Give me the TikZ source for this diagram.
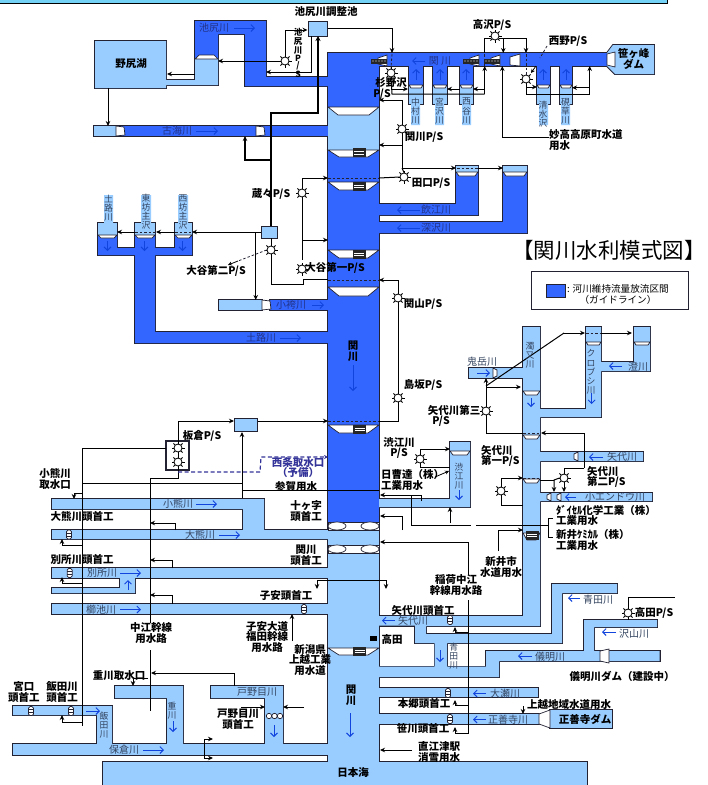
\documentclass[tikz,border=0pt]{standalone}
\usepackage{fontspec}
\usetikzlibrary{arrows.meta}
\newfontfamily\jp{Noto Sans CJK JP}
\definecolor{mb}{HTML}{3366FF}
\definecolor{lb}{HTML}{99CCFF}
\definecolor{ln}{HTML}{222233}
\definecolor{rv}{HTML}{1144DD}
\definecolor{txd}{HTML}{223388}
\definecolor{txl}{HTML}{33445F}
\definecolor{pur}{HTML}{333399}
\newcount\labc
\tikzset{
 lab/.style={font=\jp\bfseries\fontsize{10.5}{10.6}\selectfont,align=center,inner sep=0pt,text=black},
 labl/.style={lab,align=left,anchor=west},
 rl/.style={font=\jp\fontsize{10}{10}\selectfont,inner sep=0pt,text=txl},
 rld/.style={rl,text=txd},
 vt/.style={font=\jp\fontsize{8.8}{9.1}\selectfont,align=center,inner sep=0pt,text=txl},
 wl/.style={line width=1pt,draw=black},
 ar/.style={wl,-{Stealth[length=5pt,width=4.5pt]}},
 thk/.style={line width=1.4pt,draw=black,-{Stealth[length=5pt,width=5pt]}},
 dsh/.style={line width=.8pt,dash pattern=on 2.5pt off 2pt,draw=ln},
 ra/.style={line width=.9pt,draw=rv,-{Straight Barb[length=3.5pt,width=7pt]}},
 pumpn/.style={circle,draw=black,line width=.8pt,fill=white,minimum size=8pt,inner sep=0pt},
 tank/.style={draw=ln,line width=1pt,fill=lb,inner sep=0pt},
 wr/.style={fill=white,draw=ln,line width=.7pt},
}
\newcommand\lab[2]{\global\advance\labc by 1 \node[lab] (t\the\labc) at (#1) {#2};}
\newcommand\labL[2]{\global\advance\labc by 1 \node[labl] (t\the\labc) at (#1) {#2};}
\newcommand\rl[2]{\global\advance\labc by 1 \node[rl] (t\the\labc) at (#1) {#2};}
\newcommand\rld[2]{\global\advance\labc by 1 \node[rld] (t\the\labc) at (#1) {#2};}
\newcommand\vtx[2]{\global\advance\labc by 1 \node[vt] (t\the\labc) at (#1) {#2};}
\newcommand\pump[2]{\foreach \a in {0,45,...,315}{\draw[line width=1pt,shift={(#2)}] (\a:3) -- (\a:6.5);}\node[pumpn] (#1) at (#2) {};}
\newcommand\trap[5]{\draw[wr] (#1,#3) -- ({#1+#5},#4) -- ({#2-#5},#4) -- (#2,#3) -- cycle;}
\newcommand\gatebox[2]{\fill[black!85] ({#1-6.5},{#2-4.5}) rectangle ({#1+6.5},{#2+4.5});\draw[white,line width=.5pt] ({#1-5},{#2-1}) -- ({#1+5},{#2-1}) ({#1-5},{#2+1.5}) -- ({#1+5},{#2+1.5});}
\newcommand\bargate[2]{\draw[fill=white,draw=ln,line width=.7pt,rounded corners=1.5pt] ({#1-2.5},{#2-4.5}) rectangle ({#1+2.5},{#2+4.5});\draw[ln,line width=.5pt] ({#1-2.5},{#2-1.5}) -- ({#1+2.5},{#2-1.5}) ({#1-2.5},{#2+1.5}) -- ({#1+2.5},{#2+1.5});}
\newcommand\topgate[1]{\draw[wr] (#1,58) -- ({#1+9},55) -- ({#1+9},66) -- (#1,64) -- cycle;\fill[black!85] ({#1-7},59) rectangle ({#1+9},64);\foreach \k in {-5,-2,...,7}{\fill[white] ({#1+\k},61) circle (.6pt);}}
\newcommand\dgate[2]{\draw[wr] ({#1},{#2}) -- ({#1+8},{#2+1}) -- ({#1+9},{#2+9}) -- ({#1},{#2+10}) -- cycle;}
\newcommand\Rivers{%
 \MB{(328,54) rectangle (379,108)}
 \MB{(328,53) rectangle (607,66)}
 \MB{(195,58) -- (195,21) -- (266,21) -- (266,77) -- (328,77) -- (328,86) -- (245,86) -- (245,34) -- (218,34) -- (218,58) -- cycle}
 \MB{(116,126) rectangle (328,136)}
 \MB{(328,150) rectangle (379,522)}
 \MB{(379,204) -- (456,204) -- (456,166) -- (478,166) -- (478,215) -- (379,215) -- cycle}
 \MB{(379,222) -- (503,222) -- (503,166) -- (527,166) -- (527,233) -- (379,233) -- cycle}
 \MB{(270,300) rectangle (328,310)}
 \MB{(328,332) -- (155,332) -- (155,255) -- (192,255) -- (192,232) -- (175,232) -- (175,248) -- (155,248) -- (155,232) -- (135,232) -- (135,248) -- (117,248) -- (117,232) -- (98,232) -- (98,255) -- (135,255) -- (135,343) -- (328,343) -- cycle}
 \MB{(409,66) rectangle (423,88)}\MB{(433,66) rectangle (447,88)}\MB{(460,66) rectangle (473,88)}\MB{(537,66) rectangle (550,88)}\MB{(560,66) rectangle (572,88)}
 \LB{(95,41) -- (166,41) -- (166,80) -- (195,80) -- (195,58) -- (218,58) -- (218,85) -- (166,85) -- (166,88) -- (95,88) -- cycle}
 \LB{(94,126) rectangle (116,136)}
 \LB{(328,107) rectangle (379,150)}
 \LB{(98,223) rectangle (117,236)}\LB{(135,223) rectangle (155,236)}\LB{(175,223) rectangle (192,236)}
 \LB{(219,300) rectangle (262,310)}
 \LB{(456,166) rectangle (478,173)}\LB{(503,166) rectangle (527,173)}
 \LB{(409,85) rectangle (423,104)}\LB{(433,85) rectangle (447,104)}\LB{(460,85) rectangle (473,104)}\LB{(537,85) rectangle (550,104)}\LB{(560,85) rectangle (572,104)}
 \LB{(328,522) rectangle (379,762)}
 \LB{(52,499) -- (264,499) -- (264,530) -- (328,530) -- (328,539) -- (52,539) -- (52,530) -- (243,530) -- (243,509) -- (52,509) -- cycle}
 \LB{(52,568) rectangle (328,578)}
 \LB{(52,588) -- (120,588) -- (120,577) -- (135,577) -- (135,593) -- (52,593) -- cycle}
 \LB{(52,604) rectangle (328,614)}
 \LB{(13,706) -- (112,706) -- (112,744) -- (97,744) -- (97,715) -- (13,715) -- cycle}
 \LB{(13,744) rectangle (328,755)}
 \LB{(103,762) rectangle (587,785)}
 \LB{(115,686) -- (183,686) -- (183,745) -- (167,745) -- (167,698) -- (115,698) -- cycle}
 \LB{(211,686) -- (283,686) -- (283,745) -- (265,745) -- (265,698) -- (211,698) -- cycle}
 \LB{(379,616) -- (523,616) -- (523,327) -- (540,327) -- (540,409) -- (586,409) -- (586,327) -- (601,327) -- (601,362) -- (634,362) -- (634,327) -- (650,327) -- (650,371) -- (601,371) -- (601,417) -- (540,417) -- (540,452) -- (643,452) -- (643,461) -- (540,461) -- (540,493) -- (652,493) -- (652,501) -- (540,501) -- (540,626) -- (426,626) -- (426,634) -- (552,634) -- (552,584) -- (617,584) -- (617,593) -- (562,593) -- (562,643) -- (447,643) -- (447,666.7) -- (486,666.7) -- (486,651) -- (584,651) -- (584,620) -- (657,620) -- (657,627) -- (594,627) -- (594,651) -- (659.7,651) -- (659.7,661) -- (499,661) -- (499,677) -- (379,677) -- (379,666.7) -- (434.7,666.7) -- (434.7,643) -- (415,643) -- (415,625.7) -- (379,625.7) -- cycle}
 \LB{(469,368) rectangle (523,378)}
 \LB{(379,499) -- (450,499) -- (450,442) -- (470,442) -- (470,507) -- (379,507) -- cycle}
 \LB{(379,688) rectangle (538,697)}
 \LB{(379,714) rectangle (540,724)}
 \LB{(550,710) rectangle (612,728)}
 \LB{(607,53) -- (613,45) -- (654,45) -- (654,74) -- (615,74) -- (607,66) -- cycle}
}
\begin{document}
\begin{tikzpicture}[x=1pt,y=-1pt,line join=miter]
\useasboundingbox (0,0) rectangle (708,785);
\fill[white] (0,0) rectangle (708,785);
\fill[cyan!55] (0,0) rectangle (667,2.5);
\draw[black,line width=1pt] (0,3) -- (667,3) -- (667,0);
% river shapes: outline pass, then fill pass, so joined reaches have no inner lines
\def\MB#1{\draw[ln,line width=1.8pt] #1;}\def\LB#1{\draw[ln,line width=1.8pt] #1;}
\Rivers
\def\MB#1{\fill[mb] #1;}\def\LB#1{\fill[lb] #1;}
\Rivers
\MB{(328,54) rectangle (379,108)}
\LB{(328,107) rectangle (379,150)}
\fill[lb] (104,195) rectangle (113,223) (141,195) rectangle (151,223) (178,195) rectangle (188,223);
\fill[lb] (411,104) rectangle (420,125) (435,104) rectangle (444,125) (462,104) rectangle (471,125) (539,104) rectangle (548,125) (561,104) rectangle (570,125);
% weirs on main stem
\trap{328}{379}{107}{115}{10}
\trap{328}{379}{150}{157}{11}\gatebox{359}{152.5}
\trap{328}{379}{182}{190}{11}\gatebox{359}{186}
\trap{328}{379}{250}{258}{11}\gatebox{359}{254}
\trap{328}{379}{287}{296}{11}
\trap{328}{379}{425}{433}{11}\gatebox{359.5}{429}
\trap{328}{379}{648}{655}{11}\gatebox{359.5}{651}
\draw[wr] (328,522) rectangle (379,530);\draw[wr] (337,526) ellipse (9 and 4);\draw[wr] (370,526) ellipse (9 and 4);
\draw[wr] (328,545) rectangle (379,553);\draw[wr] (337,549) ellipse (9 and 4);\draw[wr] (370,549) ellipse (9 and 4);
\draw[wr] (267,716) -- (282,716);\foreach \k in {269,274.5,280}{\draw[wr] (\k,716) circle (2.7);}
% weirs on branches
\draw[wr] (195,59) -- (199,55) -- (214,55) -- (218,59) -- cycle;
\dgate{116}{126}\dgate{256}{126}\dgate{262}{300}
\foreach \a/\b in {98/117,135/155,175/192}{\trap{\a}{\b}{235}{238}{3}}
\foreach \a/\b in {409/423,433/447,460/473,537/550,560/572}{\trap{\a}{\b}{85}{88}{2}}
\trap{456}{478}{172}{176}{3}\trap{503}{527}{172}{176}{3}
\trap{450}{470}{451}{455}{3}
\trap{523}{540}{391}{395}{3}\trap{523}{540}{435}{439}{3}\trap{523}{540}{479}{483}{3}
\trap{523}{540}{533}{540}{4}\gatebox{532}{535}
\trap{586}{601}{342}{345}{2}\trap{634}{650}{342}{345}{2}
\draw[wr] (578,452) -- (574,454) -- (574,459) -- (578,461) -- cycle;
\draw[wr] (551,493) -- (547,495) -- (547,499) -- (551,501) -- cycle;
\draw[wr] (561,493) -- (557,495) -- (557,499) -- (561,501) -- cycle;
\draw[wr] (493,368) -- (497,370) -- (497,376) -- (493,378) -- cycle;
\topgate{378}\topgate{470}\topgate{491}
\draw[wr] (510,57) -- (520,54) -- (520,66) -- (510,65) -- cycle;
\draw[wr] (607,54) -- (615,52) -- (615,67) -- (607,65) -- cycle;
\draw[wr] (539,714) -- (550,710) -- (550,728) -- (539,724) -- cycle;
\draw[wr] (600,651) -- (609,649) -- (609,663) -- (600,661) -- cycle;
\bargate{69}{534.5}\bargate{69.7}{573}\bargate{304}{609}\bargate{31}{711}\bargate{71}{711}\bargate{450}{620}\bargate{448}{693}\bargate{450}{719}
% tanks
\node[tank,minimum width=19pt,minimum height=15pt] (tA) at (317.5,28.5) {};
\node[tank,minimum width=16pt,minimum height=12pt] (tB) at (269.5,232) {};
\node[tank,minimum width=23pt,minimum height=13pt] (tC) at (246,425) {};
\draw[ln,line width=1.3pt] (166,441) rectangle (189,470);
% pumps
\pump{p1}{285,61}\pump{pS}{391,73}\pump{pT}{495,36}\pump{pN}{526,79}\pump{pK}{402,129}\pump{pD}{404,177}\pump{pZ}{302,193}\pump{pOb}{271,250}\pump{pOa}{302,269}\pump{pY}{398,298}\pump{pH}{398,398}\pump{pE}{486,411}\pump{pJ}{420,459}\pump{pF}{501,491}\pump{pG}{564,478}\pump{pIa}{178,448}\pump{pIb}{178,462}\pump{pQ}{628,613}
% connectors upper
\draw[ar] (p1.west) -- (218,61);
\draw[ar] (p1.north) -- (285,30) -- (tA.west|-0,30);
\draw[ar] (311,36) -- (311,72) -- (266,72);
\draw[ar] (195,74) -- (167,74);
\draw[ar] (108,88) -- (108,126);
\draw[thk] (271,226) -- (271,113) -- (318,113) -- (318,36);
\draw[line width=1.2pt,-{Stealth[length=5pt,width=4.5pt]}] (271,160) -- (245,160) -- (245,136);
\draw[wl] (tA.east|-0,28) -- (392,28);
\draw[ar] (392,28) -- (392,53);
\draw[dsh] (392,54) -- (pS.north);
\draw[wl] (pS.south) -- (392,94) -- (484.7,94);
\draw[ar] (392,89) -- (408,89);
\draw[ar] (484.7,94) -- (484.7,66);
\draw[ar] (484.7,89) -- (473,89);
\draw[ar] (460,89) -- (447,89);
\draw[wl] (484.7,53) -- (484.7,38) -- (pT.west|-0,38);
\draw[wl] (pT.east|-0,38) -- (526,38);
\draw[ar] (526,38) -- (526,53);
\draw[ar] (503.3,38) -- (503.3,53);
\draw[dsh] (484.7,54) -- (484.7,66);
\draw[dsh] (526,54) -- (pN.north);
\draw[dsh] (547,46) -- (540,58);
\draw[line width=.8pt,-{Stealth[length=4pt,width=4pt]}] (536,66) -- (531,73);
\draw[wl] (pN.south) -- (526,94) -- (589.7,94);
\draw[ar] (526,87) -- (537,87);
\draw[ar] (589.7,94) -- (589.7,66);
\draw[ar] (589.7,87.7) -- (572,87.7);
\draw[ar] (549,137) -- (502.3,137) -- (502.3,66);
\draw[ar] (pK.north) -- (402,100) -- (379,100);
\draw[wl] (pK.south) -- (402,168);
\draw[ar] (402,145) -- (379,145);
\draw[ar] (402,168) -- (456,168);
\draw[ar] (478,168) -- (503,168);
\draw[dsh] (457,168) -- (478,168);
\draw[wl] (379,178) -- (pD.west);
\draw[wl] (pD.north) -- (402,168);
\draw[dsh] (328,178) -- (379,178);
\draw[ar] (pZ.north) -- (302,178) -- (328,178);
\draw[wl] (pZ.south) -- (302,260);
\draw[ar] (302,240) -- (328,240);
\draw[ar] (tB.west) -- (192,232);
\draw[dsh] (175,232) -- (192,232);
\draw[ar] (175,232) -- (156,232);
\draw[dsh] (135,232) -- (155,232);
\draw[ar] (135,232) -- (117,232);
\draw[ar] (255.7,232) -- (255.7,300);
\draw[wl] (271,238) -- (pOb.north);
\draw[wl] (pOb.south) -- (271,284) -- (303,284) -- (303,279.5) -- (328,279.5);
\draw[dsh] (328,280) -- (379,280);
\draw[dsh] (pOb.west) -- (238,261);
\draw[line width=.8pt,-{Stealth[length=4pt,width=4pt]}] (238,261) -- (228,265);
\draw[ar] (pY.north) -- (398,280) -- (379,280);
\draw[wl] (pY.south) -- (pH.north);
\draw[wl] (pH.south) -- (398,421) -- (379,421);
% lower-left connectors
\draw[dsh] (328,421) -- (379,421);
\draw[ar] (tC.east|-0,421) -- (328,421);
\draw[ar] (pIa.north) -- (178,421) -- (tC.west|-0,421);
\draw[wl] (pIa.south) -- (pIb.north);
\draw[ar] (242,498) -- (242,432);
\draw[wl] (242,490.7) -- (379,490.7);
\draw[wl] (82,483) -- (242,483);
\draw[wl] (166,448) -- (82,448) -- (82,726);
\draw[wl] (pIb.south) -- (178,478) -- (150,478) -- (150,623);
\draw[wl] (150,650) -- (150,711);
\draw[ar] (175,530) -- (175,523) -- (150,523);
\draw[ar] (172,568) -- (172,560) -- (150,560);
\draw[ar] (172,604) -- (172,595) -- (150,595);
\draw[ar] (234,686) -- (234,673) -- (151,673);
\draw[ar] (82,545) -- (62,545) -- (62,539);
\draw[ar] (82,583) -- (62,583) -- (62,577);
\draw[ar] (82,722) -- (62,722) -- (62,715);
\draw[ar] (82,493) -- (74,493) -- (74,499);
\draw[ar] (148,678) -- (133,678) -- (133,686);
\draw[ar] (241,707) -- (265,707);
\draw[ar] (304,707) -- (283,707);
\draw[ar] (204,739) -- (213,739);
\draw[ar] (204,739) -- (204,758) -- (213,758);
\draw[ar] (292,641) -- (292,614);
\draw[ar] (317,580) -- (317,589);
\draw[wl] (317,580) -- (386,580);
\draw[ar] (386,580) -- (386,589);
\draw[dash pattern=on 4pt off 2.5pt,line width=1.2pt,draw=pur,-{Stealth[length=4pt,width=4pt]}] (178,472) -- (260,472) -- (261,457) -- (328,457);
% right side connectors
\draw[ar] (468.7,575) -- (468.7,542) -- (380,542);
\draw[wl] (468.7,600) -- (468.7,733) -- (455,733);
\draw[ar] (455,733) -- (455,727);
\draw[wl] (468.7,705) -- (455,705);\draw[ar] (455,705) -- (455,700);
\draw[wl] (468.7,632) -- (455,632);\draw[ar] (455,632) -- (455,627);
\draw[ar] (523,706) -- (523,714);
\draw[ar] (412,750) -- (380,750);
\draw[wl] (pQ.north) -- (628,597) -- (675,597);
\draw[ar] (pJ.north) -- (420,449) -- (450,449);
\draw[wl] (pJ.south) -- (420,467) -- (450,467);
\draw[line width=.8pt,-{Stealth[length=4pt,width=4pt]}] (435,477) -- (449,471);
\draw[wl] (421,501) -- (421,495);
\draw[ar] (421,495) -- (380,495);
\draw[wl] (411,495) -- (411,525) -- (471,525);
\draw[wl] (476,525) -- (548,525);
\draw[wl] (553,518) -- (548,518) -- (548,537) -- (553,537);
\draw[ar] (450,523) -- (450,507);
\draw[ar] (402.5,530) -- (402.5,516) -- (380,516);
\draw[ar] (498,551) -- (498,530) -- (523,530);
\draw[ar] (pE.north) -- (486,378);
\draw[ar] (486,387) -- (521,387);
\draw[wl] (486,386) -- (564,333);
\draw[ar] (564,333) -- (585,333);
\draw[ar] (601,333) -- (632,333);
\draw[dsh] (586,333) -- (601,333);
\draw[wl] (pE.south) -- (486,433) -- (523,433);
\draw[dsh] (523,433) -- (540,433);
\draw[ar] (584,468) -- (584,433) -- (541,433);
\draw[wl] (pG.north) -- (564,468) -- (584,468);
\draw[ar] (pG.south) -- (564,492);
\draw[ar] (pG.west) -- (554,480) -- (554,492);
\draw[wl] (540,480) -- (554,480);
\draw[dsh] (523,478) -- (540,478);
\draw[ar] (pF.north) -- (501,478) -- (523,478);
\draw[wl] (pF.south) -- (501,505) -- (523,505);
% blue flow arrows
\draw[ra] (234,28) -- (255,28);\draw[ra] (196,131) -- (218,131);\draw[ra] (312,305) -- (324,305);\draw[ra] (280,338) -- (301,338);
\draw[ra] (425,61) -- (412,61);\draw[ra] (420,210) -- (397,210);\draw[ra] (420,228) -- (397,228);
\foreach \x in {416,440,466,543,566}{\draw[ra] (\x,80) -- (\x,69);}
\foreach \x in {107.5,144.5,182.5}{\draw[ra] (\x,241) -- (\x,251);}
\draw[ra] (353,365) -- (353,391);\draw[ra] (350,713) -- (350,737);
\draw[ra] (196,504) -- (217,504);\draw[ra] (219,535) -- (240,535);\draw[ra] (120,573) -- (141,573);\draw[ra] (120,609.5) -- (141,609.5);
\draw[ra] (128,590) -- (128,580);
\draw[ra] (86,711) -- (100,711);\draw[ra] (173,721) -- (173,732);\draw[ra] (274,725) -- (274,737);\draw[ra] (143,750) -- (164,750);
\draw[ra] (395,620.7) -- (382,620.7);\draw[ra] (580,598) -- (568,598);\draw[ra] (616,632) -- (602,632);\draw[ra] (532,656) -- (518,656);
\draw[ra] (440,650) -- (440,662);\draw[ra] (486,693.5) -- (473,693.5);\draw[ra] (486,719.5) -- (473,719.5);
\draw[ra] (576,497) -- (565,497);\draw[ra] (603,457) -- (589,457);\draw[ra] (622,366) -- (609,366);
\draw[ra] (591.7,393) -- (591.7,404);\draw[ra] (531,398) -- (531,407);\draw[ra] (477,373) -- (490,373);\draw[ra] (459,490) -- (459,500);
% bold labels
\lab{326,12}{池尻川調整池}
\lab{131,64}{野尻湖}
\node[lab,font=\jp\bfseries\fontsize{8.5}{7}\selectfont] (tPV) at (298,53) {池\\尻\\川\\P\\/\\S};
\lab{391,83}{杉野沢}
\lab{382,94}{P/S}
\lab{492,25}{高沢P/S}
\lab{568,41}{西野P/S}
\lab{424,137}{関川P/S}
\lab{431,183}{田口P/S}
\labL{549,140}{妙高高原町水道\\用水}
\lab{271,194}{蔵々P/S}
\lab{216,271}{大谷第二P/S}
\lab{335,268}{大谷第一P/S}
\lab{423,304}{関山P/S}
\lab{423,385}{島坂P/S}
\lab{353,351}{関\\川}
\lab{202,436}{板倉P/S}
\lab{55,479}{小熊川\\取水口}
\node[lab,text=pur] (tW) at (298,467.5) {西条取水口\\（予備）};
\lab{296,487}{参賀用水}
\lab{306,511}{十ヶ字\\頭首工}
\lab{82,517}{大熊川頭首工}
\lab{306,555}{関川\\頭首工}
\lab{82,560}{別所川頭首工}
\lab{286,595}{子安頭首工}
\lab{151,633}{中江幹線\\用水路}
\lab{267,637}{子安大道\\福田幹線\\用水路}
\lab{310,660}{新潟県\\上越工業\\用水道}
\lab{119,676}{重川取水口}
\lab{24,692}{宮口\\頭首工}
\lab{62,692}{飯田川\\頭首工}
\lab{238,719}{戸野目川\\頭首工}
\lab{353,772}{日本海}
\fill[black] (370,636) rectangle (377,641);
\lab{392,639}{高田}
\lab{423,611}{矢代川頭首工}
\lab{622,676}{儀明川ダム（建設中）}
\lab{424,703}{本郷頭首工}
\lab{569,705}{上越地域水道用水}
\lab{585,719}{正善寺ダム}
\lab{423,729}{笹川頭首工}
\lab{439,752}{直江津駅\\消雪用水}
\lab{456,585}{稲荷中江\\幹線用水路}
\lab{501,567}{新井市\\水道用水}
\labL{556,515.5}{ﾀﾞｲｾﾙ化学工業（株）\\工業用水}
\labL{556,540}{新井ｹﾐｶﾙ（株）\\工業用水}
\labL{587,477}{矢代川\\第二P/S}
\lab{454,411}{矢代川第三}
\lab{441,421}{P/S}
\labL{481,456}{矢代川\\第一P/S}
\lab{399,448}{渋江川\\P/S}
\labL{381,480}{日曹達（株）\\工業用水}
\lab{633.5,59}{笹ヶ峰\\ダム}
\lab{351,695}{関\\川}
\lab{654,613}{高田P/S}
% river names
\rld{214,28}{池尻川}\rld{177,131}{古海川}\rld{440,61}{関 川}\rld{436,210}{飲江川}\rld{436,228}{深沢川}\rld{291,305}{小袴川}\rld{261,338}{土路川}
\rl{178,504}{小熊川}\rl{200,535}{大熊川}\rl{102,573}{別所川}\rl{101,609.5}{櫛池川}\rl{257,692}{戸野目川}\rl{124,750}{保倉川}
\rl{413,620.7}{矢代川}\rl{598,600}{青田川}\rl{634,634}{沢山川}\rl{550,657}{儀明川}\rl{505,693.5}{大瀬川}\rl{508,719.5}{正善寺川}\rl{615,497}{小エンドウ川}\rl{622,457}{矢代川}\rl{638,367}{澄川}\rl{482,362}{鬼岳川}
\vtx{108.5,208}{土\\路\\川}\vtx{146,212}{東\\坊\\主\\沢}\vtx{183,212}{西\\坊\\主\\沢}
\vtx{415.5,111}{中\\村\\川}\vtx{439.5,111}{宮\\沢\\川}\vtx{466.5,111}{西\\谷\\川}\vtx{543,114}{清\\水\\沢}\vtx{565.5,111}{硯\\草\\川}
\vtx{104,725}{飯\\田\\川}\vtx{172,711}{重\\川}\vtx{453.7,656}{青\\田\\川}\vtx{591,372}{ク\\ロ\\ブ\\シ\\川}\vtx{530,355}{濁\\又\\川}\vtx{459,476}{渋\\江\\川}
% legend
\node[draw=ln,line width=1pt,minimum width=157pt,minimum height=38pt,inner sep=0pt] (lg) at (609.5,290.7) {};
\node[fill=mb,draw=ln,line width=.8pt,minimum width=19pt,minimum height=13pt,inner sep=0pt] (lgk) at (555.5,290.5) {};
\node[font=\jp\fontsize{9.6}{9.6}\selectfont,inner sep=0pt,anchor=west] (lgt) at (567,289) {: 河川維持流量放流区間};
\node[font=\jp\fontsize{9.6}{9.6}\selectfont,inner sep=0pt] (lgu) at (618,300) {（ガイドライン）};
% title
\node[font=\jp\fontsize{21.5}{21.5}\selectfont,inner sep=0pt] (ttl) at (609,250) {【関川水利模式図】};
\end{tikzpicture}
\end{document}
